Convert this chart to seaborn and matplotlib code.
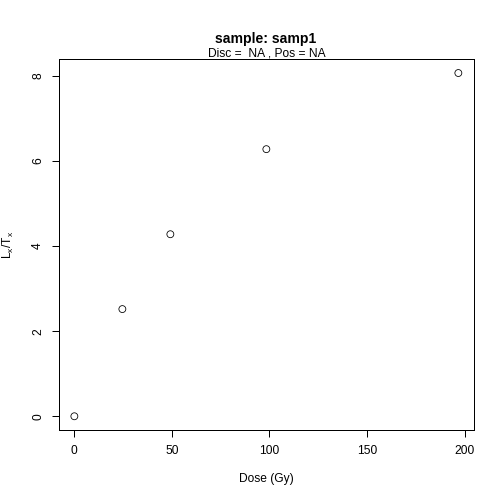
import matplotlib
matplotlib.use("Agg")
import matplotlib.pyplot as plt
import seaborn as sns
import pandas as pd

# Data
dose = [0.0, 24.6, 49.2, 98.4, 196.8]
lxtx = [0.0, 2.52, 4.28, 6.28, 8.07]
x_ticks = [0, 50, 100, 150, 200]
y_ticks = [0, 2, 4, 6, 8]

sns.set_style("white")
plt.rcParams["font.family"] = ["Liberation Sans", "DejaVu Sans"]
plt.rcParams["mathtext.fontset"] = "custom"
plt.rcParams["mathtext.rm"] = "Liberation Sans"
plt.rcParams["text.color"] = "black"
plt.rcParams["axes.labelcolor"] = "black"
plt.rcParams["xtick.color"] = "black"
plt.rcParams["ytick.color"] = "black"

df = pd.DataFrame({"dose": dose, "lxtx": lxtx})

fig = plt.figure(figsize=(7, 7), dpi=72)
ax = fig.add_axes([59 / 504, 74 / 504, (473.7 - 59) / 504, (430 - 59.3) / 504])

sns.scatterplot(data=df, x="dose", y="lxtx", ax=ax, marker="o", s=48,
                facecolor="none", edgecolor="black", linewidth=0.8)

# R-style 4% padding
xr = max(dose) - min(dose)
yr = max(lxtx) - min(lxtx)
ax.set_xlim(min(dose) - 0.04 * xr, max(dose) + 0.04 * xr)
ax.set_ylim(min(lxtx) - 0.04 * yr, max(lxtx) + 0.04 * yr)

ax.set_xticks(x_ticks)
ax.set_yticks(y_ticks)
ax.tick_params(axis="both", direction="out", length=7, width=1, color="black",
               labelsize=12, pad=8, left=True, bottom=True)
plt.setp(ax.get_yticklabels(), rotation=90, va="center")
for s in ax.spines.values():
    s.set_color("black")
    s.set_linewidth(1)

ax.set_xlabel("Dose (Gy)", fontsize=12, labelpad=16)
ax.set_ylabel(r"L$_\mathrm{x}$/T$_\mathrm{x}$", fontsize=12, labelpad=16)

fig.text(266 / 504, 1 - 43 / 504, "sample: samp1", ha="center", va="baseline",
         fontsize=14, fontweight="bold")
fig.text(267 / 504, 1 - 56 / 504, "Disc =  NA , Pos = NA", ha="center", va="baseline",
         fontsize=12)

fig.savefig("out.png", dpi=72)
